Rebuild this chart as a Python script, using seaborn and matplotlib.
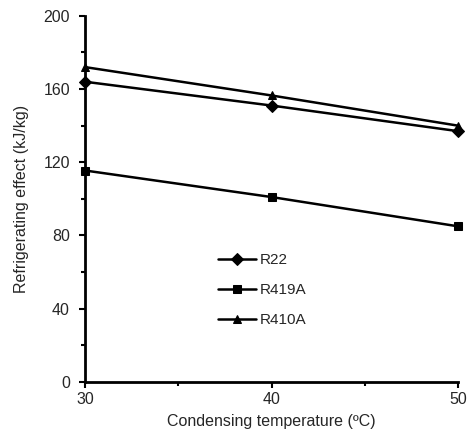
import pandas as pd
import matplotlib.pyplot as plt
import seaborn as sns
from matplotlib.ticker import MultipleLocator

# condensing temperature (C) and refrigerating effect (kJ/kg)
temps = [30, 40, 50]
r22 = [164, 151, 137]
r419a = [115.5, 101, 85]
r410a = [172, 156.5, 140]

df = pd.DataFrame({
    'temp': temps * 3,
    'effect': r22 + r419a + r410a,
    'refrigerant': ['R22'] * 3 + ['R419A'] * 3 + ['R410A'] * 3,
})

sns.set_style('ticks')
plt.rcParams['font.family'] = ['Liberation Sans', 'DejaVu Sans']

fig = plt.figure(figsize=(4.68, 4.41), dpi=100)
ax = fig.add_axes([0.182, 0.134, 0.797, 0.83])

sns.lineplot(data=df, x='temp', y='effect', style='refrigerant',
             markers={'R22': 'D', 'R419A': 's', 'R410A': '^'},
             dashes=False, color='black', linewidth=1.8, markersize=6,
             markeredgecolor='black', clip_on=False, ax=ax)

ax.set_xlim(30, 50)
ax.set_ylim(0, 200)
ax.xaxis.set_major_locator(MultipleLocator(10))
ax.xaxis.set_minor_locator(MultipleLocator(5))
ax.yaxis.set_major_locator(MultipleLocator(40))
ax.yaxis.set_minor_locator(MultipleLocator(20))
ax.tick_params(which='major', length=4, width=1.5, labelsize=11.5, color='black')
ax.tick_params(which='minor', length=3, width=1.5, color='black')
ax.tick_params(axis='x', pad=3)
ax.tick_params(axis='y', pad=7)

for side in ['left', 'bottom']:
    ax.spines[side].set_linewidth(2)
    ax.spines[side].set_color('black')
ax.spines['top'].set_visible(False)
ax.spines['right'].set_visible(False)

ax.set_xlabel('Condensing temperature (ºC)', fontsize=11.5, labelpad=5)
ax.set_ylabel('Refrigerating effect (kJ/kg)', fontsize=11.5, labelpad=10)

ax.legend(loc='upper left', bbox_to_anchor=(0.32, 0.39), frameon=False,
          fontsize=11, handlelength=2.5, labelspacing=1.05, handletextpad=0.2)

fig.savefig('out.png', dpi=100)
